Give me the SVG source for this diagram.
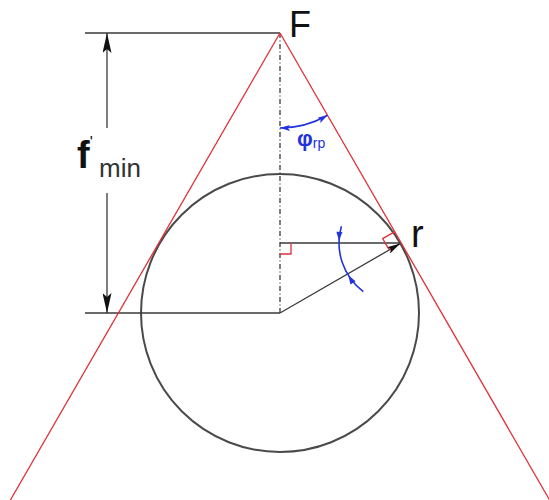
<svg xmlns="http://www.w3.org/2000/svg" width="549" height="500" viewBox="0 0 549 500">
<style>
.ln{stroke:#3a3a3a;stroke-width:1.3;fill:none}
.red{stroke:#e0303a;stroke-width:1.3;fill:none}
.blue{stroke:#2233dd;stroke-width:1.6;fill:none}
.txt{font-family:"Liberation Sans",Arial,sans-serif;fill:#111}
.btxt{font-family:"Liberation Sans",Arial,sans-serif;fill:#2233dd}
</style>
<defs>
<marker id="bArr" viewBox="0 0 10 6" refX="10" refY="3" markerWidth="10" markerHeight="6" markerUnits="userSpaceOnUse" orient="auto-start-reverse">
<path d="M0,0 L10,3 L0,6 L2,3 Z" fill="#2233dd"/>
</marker>
<marker id="kArr" viewBox="0 0 20 9" refX="20" refY="4.5" markerWidth="20" markerHeight="9" markerUnits="userSpaceOnUse" orient="auto-start-reverse">
<path d="M0,0 L20,4.5 L0,9 L4,4.5 Z" fill="#111"/>
</marker>
<marker id="sArr" viewBox="0 0 14 7" refX="14" refY="3.5" markerWidth="14" markerHeight="7" markerUnits="userSpaceOnUse" orient="auto">
<path d="M0,0 L14,3.5 L0,7 L3,3.5 Z" fill="#111"/>
</marker>
</defs>
<rect width="549" height="500" fill="#fff"/>
<g id="circle"><circle cx="280" cy="313" r="139" fill="none" stroke="#4a4a4a" stroke-width="2"/></g>
<g id="connectors">
<line class="ln" x1="85" y1="33" x2="280" y2="33"/>
<line class="ln" x1="85" y1="313" x2="280" y2="313"/>
<line class="ln" x1="107" y1="128" x2="107" y2="33" marker-end="url(#kArr)"/>
<line class="ln" x1="107" y1="193" x2="107" y2="313" marker-end="url(#kArr)"/>
<line class="ln" x1="280" y1="33" x2="280" y2="313" stroke-dasharray="5 2.5 1 2.5"/>
<line class="ln" x1="280" y1="243" x2="400" y2="243"/>
<line class="ln" x1="280" y1="313" x2="400.4" y2="243.5" marker-end="url(#sArr)"/>
<line class="red" x1="280" y1="33" x2="10.4" y2="500"/>
<line class="red" x1="280" y1="33" x2="549.6" y2="500"/>
<polyline class="red" points="280,254 291,254 291,243"/>
<polyline class="red" points="389.2,249.9 382.7,238.6 394,232.1"/>
<path class="blue" d="M280,128 A95,95 0 0 0 327.5,115.3" marker-start="url(#bArr)" marker-end="url(#bArr)"/>
<path class="blue" d="M341.4,226.2 A61,61 0 0 0 363.3,291.7"/>
<polygon points="339.04,240.87 342.35,232.0 336.35,231.8" fill="#2233dd"/>
<polygon points="348.27,275.33 355.58,281.37 350.50,284.55" fill="#2233dd"/>
</g>
<g id="label-F"><text class="txt" x="289" y="37" font-size="36">F</text></g>
<g id="label-r"><text class="txt" x="411" y="247" font-size="38">r</text></g>
<g id="label-fmin"><text class="txt" x="77" y="168" font-size="38" font-weight="bold">f<tspan font-size="16" font-weight="normal" dy="-20">'</tspan><tspan x="99" y="177" font-size="26" font-weight="normal" fill="#333">min</tspan></text></g>
<g id="label-phi"><text class="btxt" x="297" y="146" font-size="22" font-weight="bold">φ<tspan font-size="14" font-weight="normal" dy="2">rp</tspan></text></g>
</svg>
